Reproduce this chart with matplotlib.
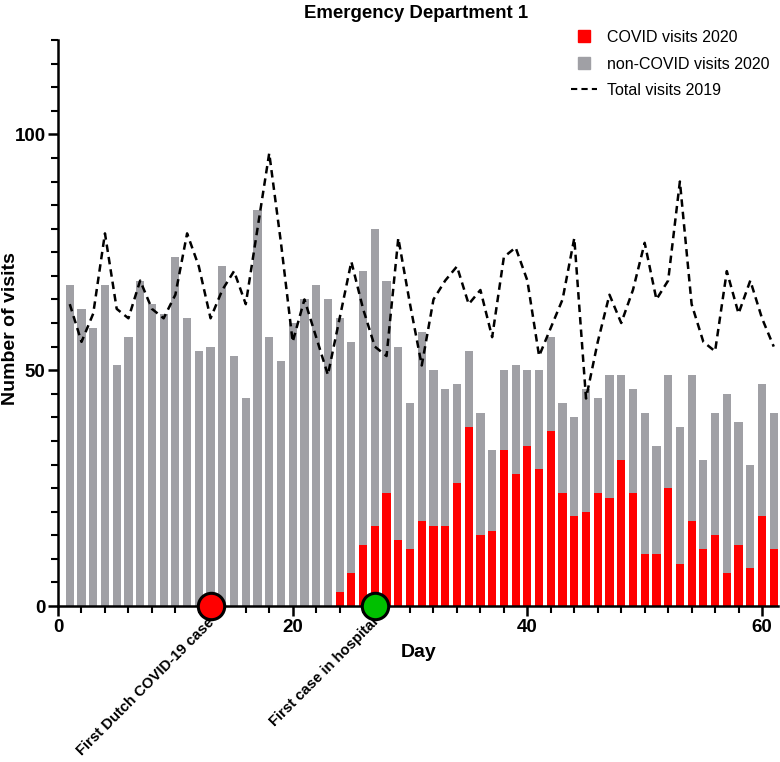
from matplotlib import pyplot as plt
from matplotlib.lines import Line2D
import numpy as np

plt.rcParams['font.family'] = ['Liberation Sans', 'DejaVu Sans']

# Daily visits, days 1..61
days = np.arange(1, 62)
total_2020 = [68, 63, 59, 68, 51, 57, 69, 64, 62, 74,
              61, 54, 55, 72, 53, 44, 84, 57, 52, 60,
              65, 68, 65, 61, 56, 71, 80, 69, 55, 43,
              58, 50, 46, 47, 54, 41, 33, 50, 51, 50,
              50, 57, 43, 40, 46, 44, 49, 49, 46, 41,
              34, 49, 38, 49, 31, 41, 45, 39, 30, 47,
              41]
covid_2020 = [0, 0, 0, 0, 0, 0, 0, 0, 0, 0,
              0, 0, 0, 0, 0, 0, 0, 0, 0, 0,
              0, 0, 0, 3, 7, 13, 17, 24, 14, 12,
              18, 17, 17, 26, 38, 15, 16, 33, 28, 34,
              29, 37, 24, 19, 20, 24, 23, 31, 24, 11,
              11, 25, 9, 18, 12, 15, 7, 13, 8, 19,
              12]
total_2019 = [64, 56, 62, 79, 63, 61, 69, 63, 61, 66,
              79, 72, 61, 67, 71, 64, 80, 96, 77, 56,
              65, 57, 49, 61, 73, 63, 55, 53, 78, 64,
              51, 65, 69, 72, 64, 67, 57, 74, 76, 69,
              53, 59, 65, 78, 44, 56, 66, 60, 67, 77,
              65, 69, 90, 64, 56, 54, 71, 62, 69, 61,
              55]
events = [13, 27]
event_labels = ['First Dutch COVID-19 case', 'First case in hospital']
event_colors = ['#FF0000', '#00C000']

total_2020 = np.array(total_2020)
covid_2020 = np.array(covid_2020)
non_covid = total_2020 - covid_2020

gray = '#A0A0A5'
red = '#FF0000'

fig = plt.figure(figsize=(7.8, 7.62), dpi=100)
ax = fig.add_axes([0.0744, 0.2047, 0.9236, 0.7428])

ax.bar(days, covid_2020, width=0.7, color=red, zorder=2)
ax.bar(days, non_covid, width=0.7, bottom=covid_2020, color=gray, zorder=2)
ax.plot(days, total_2019, color='black', linestyle=(0, (3, 2)), linewidth=1.8, zorder=3)

# Event markers on the x axis
for d, lab, c in zip(events, event_labels, event_colors):
    ax.plot([d], [0], marker='o', markersize=19, markerfacecolor=c,
            markeredgecolor='black', markeredgewidth=2.2, clip_on=False, zorder=5)
    ax.annotate(lab, xy=(d, 0), xytext=(-2.5, -6.5), textcoords='offset points',
                ha='right', va='top', rotation=45, rotation_mode='anchor',
                fontsize=10.7, fontweight='bold', annotation_clip=False)

ax.set_xlim(0, 61.4)
ax.set_ylim(0, 120)
ax.set_xticks([0, 20, 40, 60])
ax.set_xticks(np.arange(0, 62, 2), minor=True)
ax.set_yticks([0, 50, 100])
ax.set_yticks(np.arange(0, 121, 5), minor=True)

for s in ['top', 'right']:
    ax.spines[s].set_visible(False)
for s in ['left', 'bottom']:
    ax.spines[s].set_linewidth(1.8)
ax.tick_params(which='major', length=7, width=1.8, labelsize=13.5, pad=2)
ax.tick_params(which='minor', length=5, width=1.5)
for lbl in ax.get_xticklabels() + ax.get_yticklabels():
    lbl.set_fontweight('bold')

ax.set_xlabel('Day', fontsize=14, fontweight='bold', labelpad=6)
ax.set_ylabel('Number of visits', fontsize=14, fontweight='bold')
ax.yaxis.set_label_coords(-0.054, 0.491)
fig.suptitle('Emergency Department 1', fontsize=13.4, fontweight='bold', x=0.534, y=0.993)

handles = [
    Line2D([], [], marker='s', color='none', markerfacecolor=red, markeredgecolor=red, markersize=8),
    Line2D([], [], marker='s', color='none', markerfacecolor=gray, markeredgecolor=gray, markersize=8),
    Line2D([], [], color='black', linestyle=(0, (3, 2)), linewidth=1.5),
]
ax.legend(handles, ['COVID visits 2020', 'non-COVID visits 2020', 'Total visits 2019'],
          loc='upper right', bbox_to_anchor=(1.008, 1.043), frameon=False, fontsize=11.5,
          handlelength=1.6, handletextpad=0.65, labelspacing=0.72)

fig.savefig('out.png', dpi=100)
